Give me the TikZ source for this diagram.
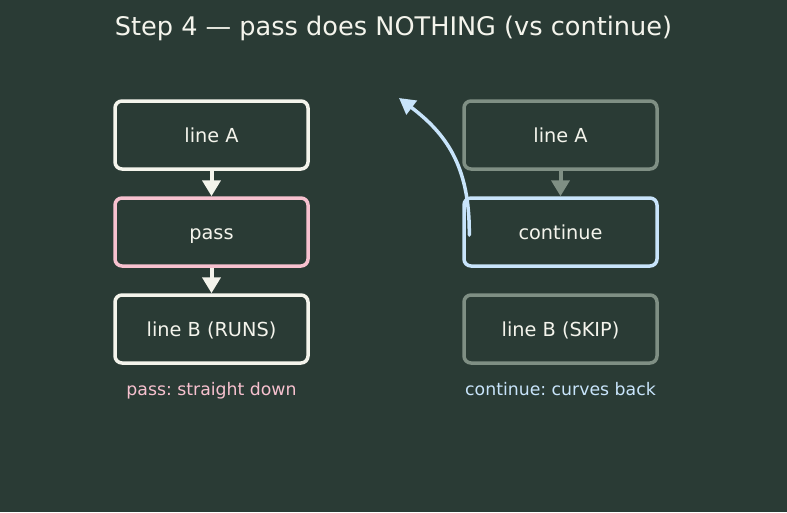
\documentclass[tikz,border=0pt]{standalone}
\usepackage{fontspec}
\setmainfont{DejaVu Sans}
\frenchspacing
\usetikzlibrary{arrows.meta}
\definecolor{bg}{HTML}{2A3B35}
\definecolor{wht}{HTML}{F4F4EC}
\definecolor{pnk}{HTML}{F7C1CF}
\definecolor{gry}{HTML}{7F8F84}
\definecolor{lbl}{HTML}{C8E4FB}
\tikzset{
  box/.style={draw, line width=3.5pt, rounded corners=7pt, minimum width=193pt, minimum height=68pt, inner sep=0pt, text height=14pt, text depth=0pt, text=wht, font=\fontsize{19.3}{22}\selectfont},
  flow/.style={line width=4pt, -{Triangle[length=16pt,width=18pt]}},
  captext/.style={font=\fontsize{17.3}{20}\selectfont, anchor=base},
}
\begin{document}
\begin{tikzpicture}[x=1pt,y=-1pt]
\fill[bg] (0,0) rectangle (787,512);
\useasboundingbox (0,0) rectangle (787,512);
\node[text=wht, font=\fontsize{25.6}{28}\selectfont] (title) at (393.5,28) {Step 4 — pass does NOTHING (vs continue)};
\node[box, draw=wht] (la) at (211.5,135) {line A};
\node[box, draw=pnk] (pass) at (211.5,232) {pass};
\node[box, draw=wht] (lb) at (211.5,329) {line B (RUNS)};
\node[captext, text=pnk] (capl) at (211.5,395) {pass: straight down};
\node[box, draw=gry] (ra) at (560.5,135) {line A};
\node[box, draw=lbl] (cont) at (560.5,232) {continue};
\node[box, draw=gry] (rb) at (560.5,329) {line B (SKIP)};
\node[captext, text=lbl] (capr) at (560.5,395) {continue: curves back};
\coordinate (back) at (399,98);
\coordinate (cstart) at ([xshift=7pt,yshift=-3pt]cont.west);
\draw[flow, draw=wht, fill=wht] (la.south) -- (pass.north);
\draw[flow, draw=wht, fill=wht] (pass.south) -- (lb.north);
\draw[flow, draw=gry, fill=gry] (ra.south) -- (cont.north);
\draw[line width=3.5pt, draw=lbl, -{Triangle[length=16pt,width=17pt]}, line cap=round] (cstart) .. controls (470,165) and (445,133) .. (back);
\end{tikzpicture}
\end{document}
